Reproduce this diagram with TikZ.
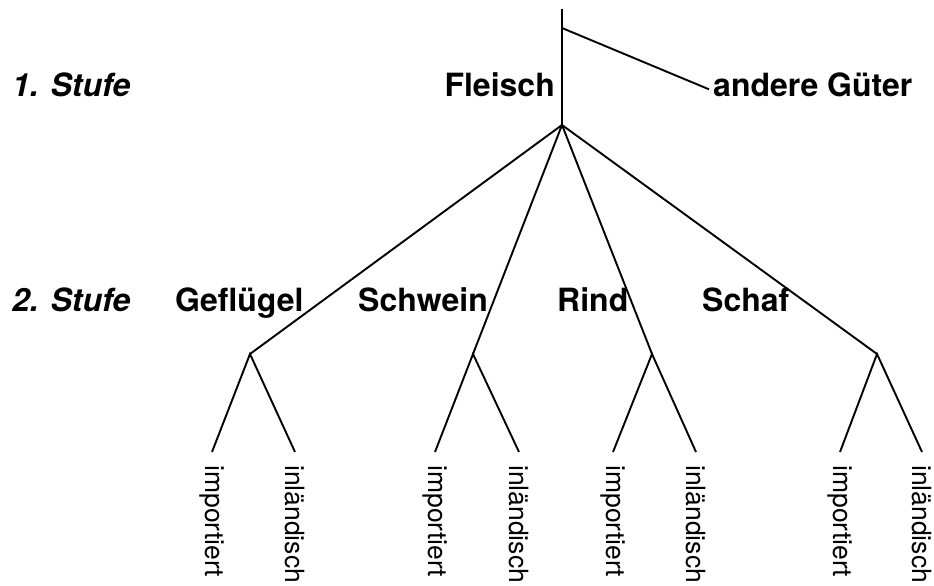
\documentclass[tikz,border=0pt]{standalone}
\usepackage{fontspec}
\setmainfont{TeX Gyre Heros}
\begin{document}
\begin{tikzpicture}[x=1pt,y=1pt,
  branch/.style={line width=1.9pt},
  level/.style={font=\fontsize{32}{36}\selectfont\bfseries\itshape, inner sep=0pt, anchor=base west},
  good/.style={font=\fontsize{32}{36}\selectfont\bfseries, inner sep=0pt, anchor=base west},
  leaf/.style={font=\fontsize{26.5}{30}\selectfont, rotate=-90, anchor=west, inner xsep=13pt, inner ysep=0pt}]
\useasboundingbox (0,0) rectangle (934,586);

% stage labels
\node[level] (stufeA) at (12,489) {1. Stufe};
\node[level] (stufeB) at (12,274) {2. Stufe};

% first stage
\coordinate (top)   at (562,577);
\coordinate (split) at (562,558);
\coordinate (meat)  at (562,461);
\node[good, anchor=base east] (fleisch) at (555,489) {Fleisch};
\node[good, inner xsep=4pt] (andere) at (709,489) {andere Güter};
\draw[branch] (top) -- (meat);
\draw[branch] (split) -- ([yshift=-4pt]andere.west);

% second stage
\node[good] (gefluegel) at (175,274) {Geflügel};
\node[good] (schwein)   at (358,274) {Schwein};
\node[good] (rind)      at (557,274) {Rind};
\node[good] (schaf)     at (702,274) {Schaf};
\coordinate (jG)  at (250,232);
\coordinate (jS)  at (473,232);
\coordinate (jR)  at (652,232);
\coordinate (jSh) at (877,232);
\foreach \j in {jG,jS,jR,jSh} \draw[branch] (meat) -- (\j);

% origin of each kind of meat
\node[leaf] (gi)  at (212,134) {importiert};
\node[leaf] (gl)  at (295,134) {inländisch};
\node[leaf] (si)  at (435,134) {importiert};
\node[leaf] (sl)  at (519,134) {inländisch};
\node[leaf] (ri)  at (613,134) {importiert};
\node[leaf] (rl)  at (696,134) {inländisch};
\node[leaf] (shi) at (840,134) {importiert};
\node[leaf] (shl) at (922,134) {inländisch};

\draw[branch] (gi.west) -- (jG) -- (gl.west);
\draw[branch] (si.west) -- (jS) -- (sl.west);
\draw[branch] (ri.west) -- (jR) -- (rl.west);
\draw[branch] (shi.west) -- (jSh) -- (shl.west);
\end{tikzpicture}
\end{document}
